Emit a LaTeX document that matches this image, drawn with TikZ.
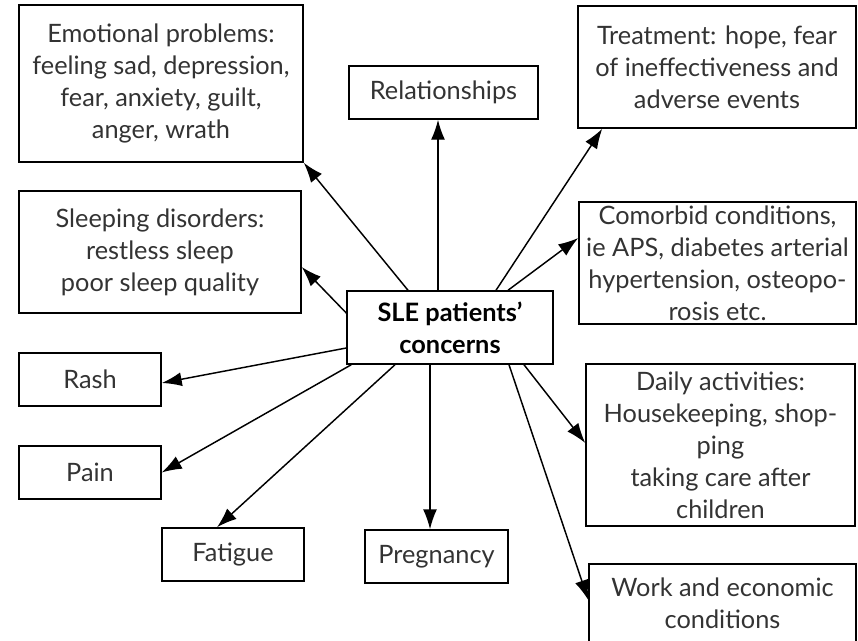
\documentclass[tikz,border=0pt]{standalone}
\usepackage{fontspec}
\setmainfont{Lato}
\usepackage{tikz}
\usetikzlibrary{arrows.meta,calc}

\tikzset{
    concern/.style = {draw, line width=1.1pt, align=center, inner sep=2pt,
        font=\fontsize{19}{24}\selectfont, text=black!80},
    link/.style = {-{Latex[length=15pt,width=10.5pt]}, line width=1.1pt}
}

\begin{document}
\begin{tikzpicture}[x=0.75pt,y=-0.75pt]
    \useasboundingbox (0,0) rectangle (858,640);
    \clip (0,0) rectangle (858,640);
    % centre
    \node[concern, minimum width=154.5pt, minimum height=54.75pt, text=black,
        font=\fontsize{19}{24}\selectfont\bfseries] (sle) at (450,327.5)
        {SLE patients'\\concerns};
    % concerns round it
    \node[concern, minimum width=213pt, minimum height=117.75pt] (emotional) at (161,83.5)
        {Emotional problems:\\feeling sad, depression,\\fear, anxiety, guilt,\\anger, wrath};
    \node[concern, minimum width=211.5pt, minimum height=91.5pt] (sleeping) at (160,252)
        {Sleeping disorders:\\restless sleep\\poor sleep quality};
    \node[concern, minimum width=141.75pt, minimum height=39.75pt] (relations) at (443.5,92.5)
        {Relationships};
    \node[concern, minimum width=208.5pt, minimum height=91.5pt] (treatment) at (717,67)
        {Treatment: hope, fear\\of ineffectiveness and\\adverse events};
    \node[concern, minimum width=207.75pt, minimum height=91.5pt] (comorbid) at (717.5,263)
        {Comorbid conditions,\\ie APS, diabetes arterial\\hypertension, osteopo-\\rosis etc.};
    \node[concern, minimum width=106.5pt, minimum height=39.75pt] (rash) at (90,379.5)
        {Rash};
    \node[concern, minimum width=106.5pt, minimum height=39.75pt] (pain) at (90,472.5)
        {Pain};
    \node[concern, minimum width=106.5pt, minimum height=39.75pt] (fatigue) at (233,554.5)
        {Fatigue};
    \node[concern, minimum width=107.25pt, minimum height=39.75pt] (pregnancy) at (436.5,556.5)
        {Pregnancy};
    \node[concern, minimum width=201.75pt, minimum height=121.5pt] (daily) at (720.5,445)
        {Daily activities:\\Housekeeping, shop-\\ping\\taking care after\\children};
    \node[concern, minimum width=200.25pt, minimum height=59.25pt] (work) at (722.5,603.5)
        {Work and economic\\conditions};
    % arrows
    \draw[link] ($(sle.north)+(-42,0)$) -- (emotional.south east);
    \draw[link] ($(sle.north)+(-12,0)$) -- ($(relations.south)+(-5.5,0)$);
    \draw[link] ($(sle.north)+(46,0)$) -- ($(treatment.south west)+(25,0)$);
    \draw[link] ($(sle.north)+(58,0)$) -- ($(comorbid.west)+(0,-25)$);
    \draw[link] ($(sle.west)+(0,-14.5)$) -- ($(sleeping.east)+(0,15)$);
    \draw[link] ($(sle.west)+(0,20.5)$) -- ($(rash.east)+(0,3.5)$);
    \draw[link] ($(sle.south west)+(5,0)$) -- (pain.east);
    \draw[link] ($(sle.south)+(-55,0)$) -- ($(fatigue.north)+(-16,0)$);
    \draw[link] ($(sle.south)+(-20,0)$) -- ($(pregnancy.north)+(-6.5,0)$);
    \draw[link] ($(sle.south)+(74,0)$) -- ($(daily.west)+(0,-2)$);
    \draw[link] ($(sle.south)+(59,0)$) -- ($(work.west)+(0,-3.5)$);
\end{tikzpicture}
\end{document}
